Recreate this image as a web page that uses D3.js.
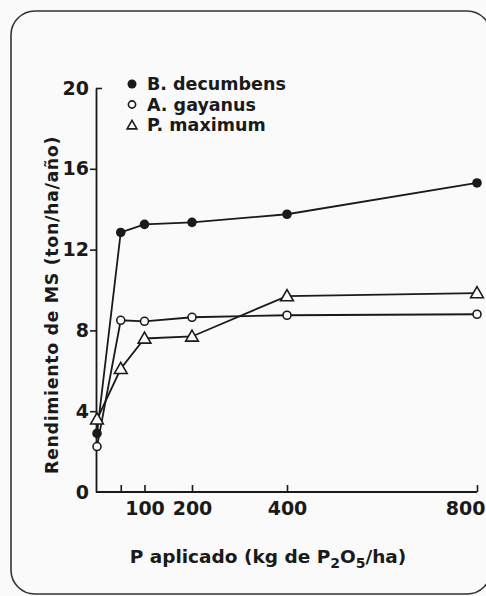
<!DOCTYPE html>
<html>
<head>
<meta charset="utf-8">
<script src="https://cdn.jsdelivr.net/npm/d3@7"></script>
<style>
  html, body { margin: 0; padding: 0; background: #fafafa; }
  svg { display: block; }
  text { font-family: 'DejaVu Sans', sans-serif; font-weight: bold; fill: #1a1a1a; }
</style>
</head>
<body>
<div id="chart"></div>
<script>
const doses = [0, 50, 100, 200, 400, 800]
const decumbens = [2.9, 12.85, 13.25, 13.35, 13.75, 15.3]
const gayanus = [2.25, 8.5, 8.45, 8.65, 8.75, 8.8]
const maximum = [3.6, 6.1, 7.6, 7.7, 9.7, 9.85]
const xTicks = [50, 100, 200, 400, 800]
const xLabels = [100, 200, 400, 800]
const yTicks = [0, 4, 8, 12, 16, 20]
const seriesNames = ['B. decumbens', 'A. gayanus', 'P. maximum']

const width = 486
const height = 596
const ink = '#1a1a1a'

const svg = d3.select('#chart').append('svg')
  .attr('width', width)
  .attr('height', height)

// rounded frame
svg.append('rect')
  .attr('x', 11).attr('y', 11)
  .attr('width', 480).attr('height', 583)
  .attr('rx', 24).attr('ry', 24)
  .attr('fill', 'none')
  .attr('stroke', '#333')
  .attr('stroke-width', 1.6)

const x = d3.scaleLinear().domain([0, 800]).range([97, 477])
const y = d3.scaleLinear().domain([0, 20]).range([492, 88])

// x axis, ticks pointing up
const xAxis = svg.append('g')
  .attr('transform', `translate(0,${y(0)})`)
  .call(d3.axisBottom(x).tickValues(xTicks).tickSize(-7).tickSizeOuter(0)
    .tickPadding(9).tickFormat(d => xLabels.includes(d) ? d : ''))
xAxis.select('.domain').attr('stroke', ink).attr('stroke-width', 1.8)
  .attr('d', `M${x(0) - 1},0H${x(800)}`)
xAxis.selectAll('.tick line').attr('stroke', ink).attr('stroke-width', 1.6)
xAxis.selectAll('.tick text')
  .attr('font-size', 19).attr('font-family', null).attr('fill', ink)
  .attr('dy', '0.75em')
xAxis.selectAll('.tick text').filter(d => d === 800)
  .attr('text-anchor', 'end').attr('dx', 8)

// y axis
const yAxis = svg.append('g')
  .attr('transform', `translate(${x(0) - 1},0)`)
  .call(d3.axisLeft(y).tickValues(yTicks).tickSize(6).tickSizeOuter(0).tickPadding(1))
yAxis.select('.domain').attr('stroke', ink).attr('stroke-width', 1.8)
yAxis.selectAll('.tick line').attr('stroke', ink).attr('stroke-width', 1.6)
yAxis.selectAll('.tick line').filter(d => d === 0).remove()
yAxis.selectAll('.tick line').filter(d => d === 20).attr('x2', 6)
yAxis.selectAll('.tick text')
  .attr('font-size', 19).attr('font-family', null).attr('fill', ink)

// axis titles
const xt = svg.append('text')
  .attr('x', 268).attr('y', 563)
  .attr('text-anchor', 'middle')
  .attr('font-size', 18.5)
xt.append('tspan').text('P aplicado (kg de P')
xt.append('tspan').attr('font-size', 14).attr('dy', 5).text('2')
xt.append('tspan').attr('dy', -5).text('O')
xt.append('tspan').attr('font-size', 14).attr('dy', 5).text('5')
xt.append('tspan').attr('dy', -5).text('/ha)')

svg.append('text')
  .attr('transform', 'translate(58,305) rotate(-90)')
  .attr('text-anchor', 'middle')
  .attr('font-size', 17.5)
  .attr('letter-spacing', 0.6)
  .text('Rendimiento de MS (ton/ha/año)')

// series
const series = [decumbens, gayanus, maximum].map((vals, i) => ({
  name: seriesNames[i],
  points: doses.map((d, j) => [d, vals[j]])
}))

const line = d3.line().x(d => x(d[0])).y(d => y(d[1]))

svg.append('g').selectAll('path')
  .data(series)
  .join('path')
  .attr('d', d => line(d.points))
  .attr('fill', 'none')
  .attr('stroke', ink)
  .attr('stroke-width', 1.8)

const tri = d3.symbol().type(d3.symbolTriangle).size(70)

function drawMarker(g, i, big) {
  if (i === 0) {
    g.append('circle').attr('r', big ? 4.8 : 4.5).attr('fill', ink)
  } else if (i === 1) {
    g.append('circle').attr('r', big ? 4 : 3.6)
      .attr('fill', '#fafafa').attr('stroke', ink).attr('stroke-width', 1.6)
  } else {
    g.append('path').attr('d', big ? tri() : d3.symbol().type(d3.symbolTriangle).size(42)())
      .attr('transform', 'translate(0,1)')
      .attr('fill', '#fafafa').attr('stroke', ink).attr('stroke-width', 1.6)
  }
}

series.forEach((s, i) => {
  s.points.forEach(p => {
    const g = svg.append('g').attr('transform', `translate(${x(p[0])},${y(p[1])})`)
    drawMarker(g, i, true)
  })
})

// legend
const legend = svg.append('g').attr('transform', 'translate(132,84)')
seriesNames.forEach((name, i) => {
  const row = legend.append('g').attr('transform', `translate(0,${i * 20.5})`)
  drawMarker(row, i, false)
  row.append('text')
    .attr('x', 15).attr('dy', '0.36em')
    .attr('font-size', 17.5)
    .text(name)
})
</script>
</body>
</html>
